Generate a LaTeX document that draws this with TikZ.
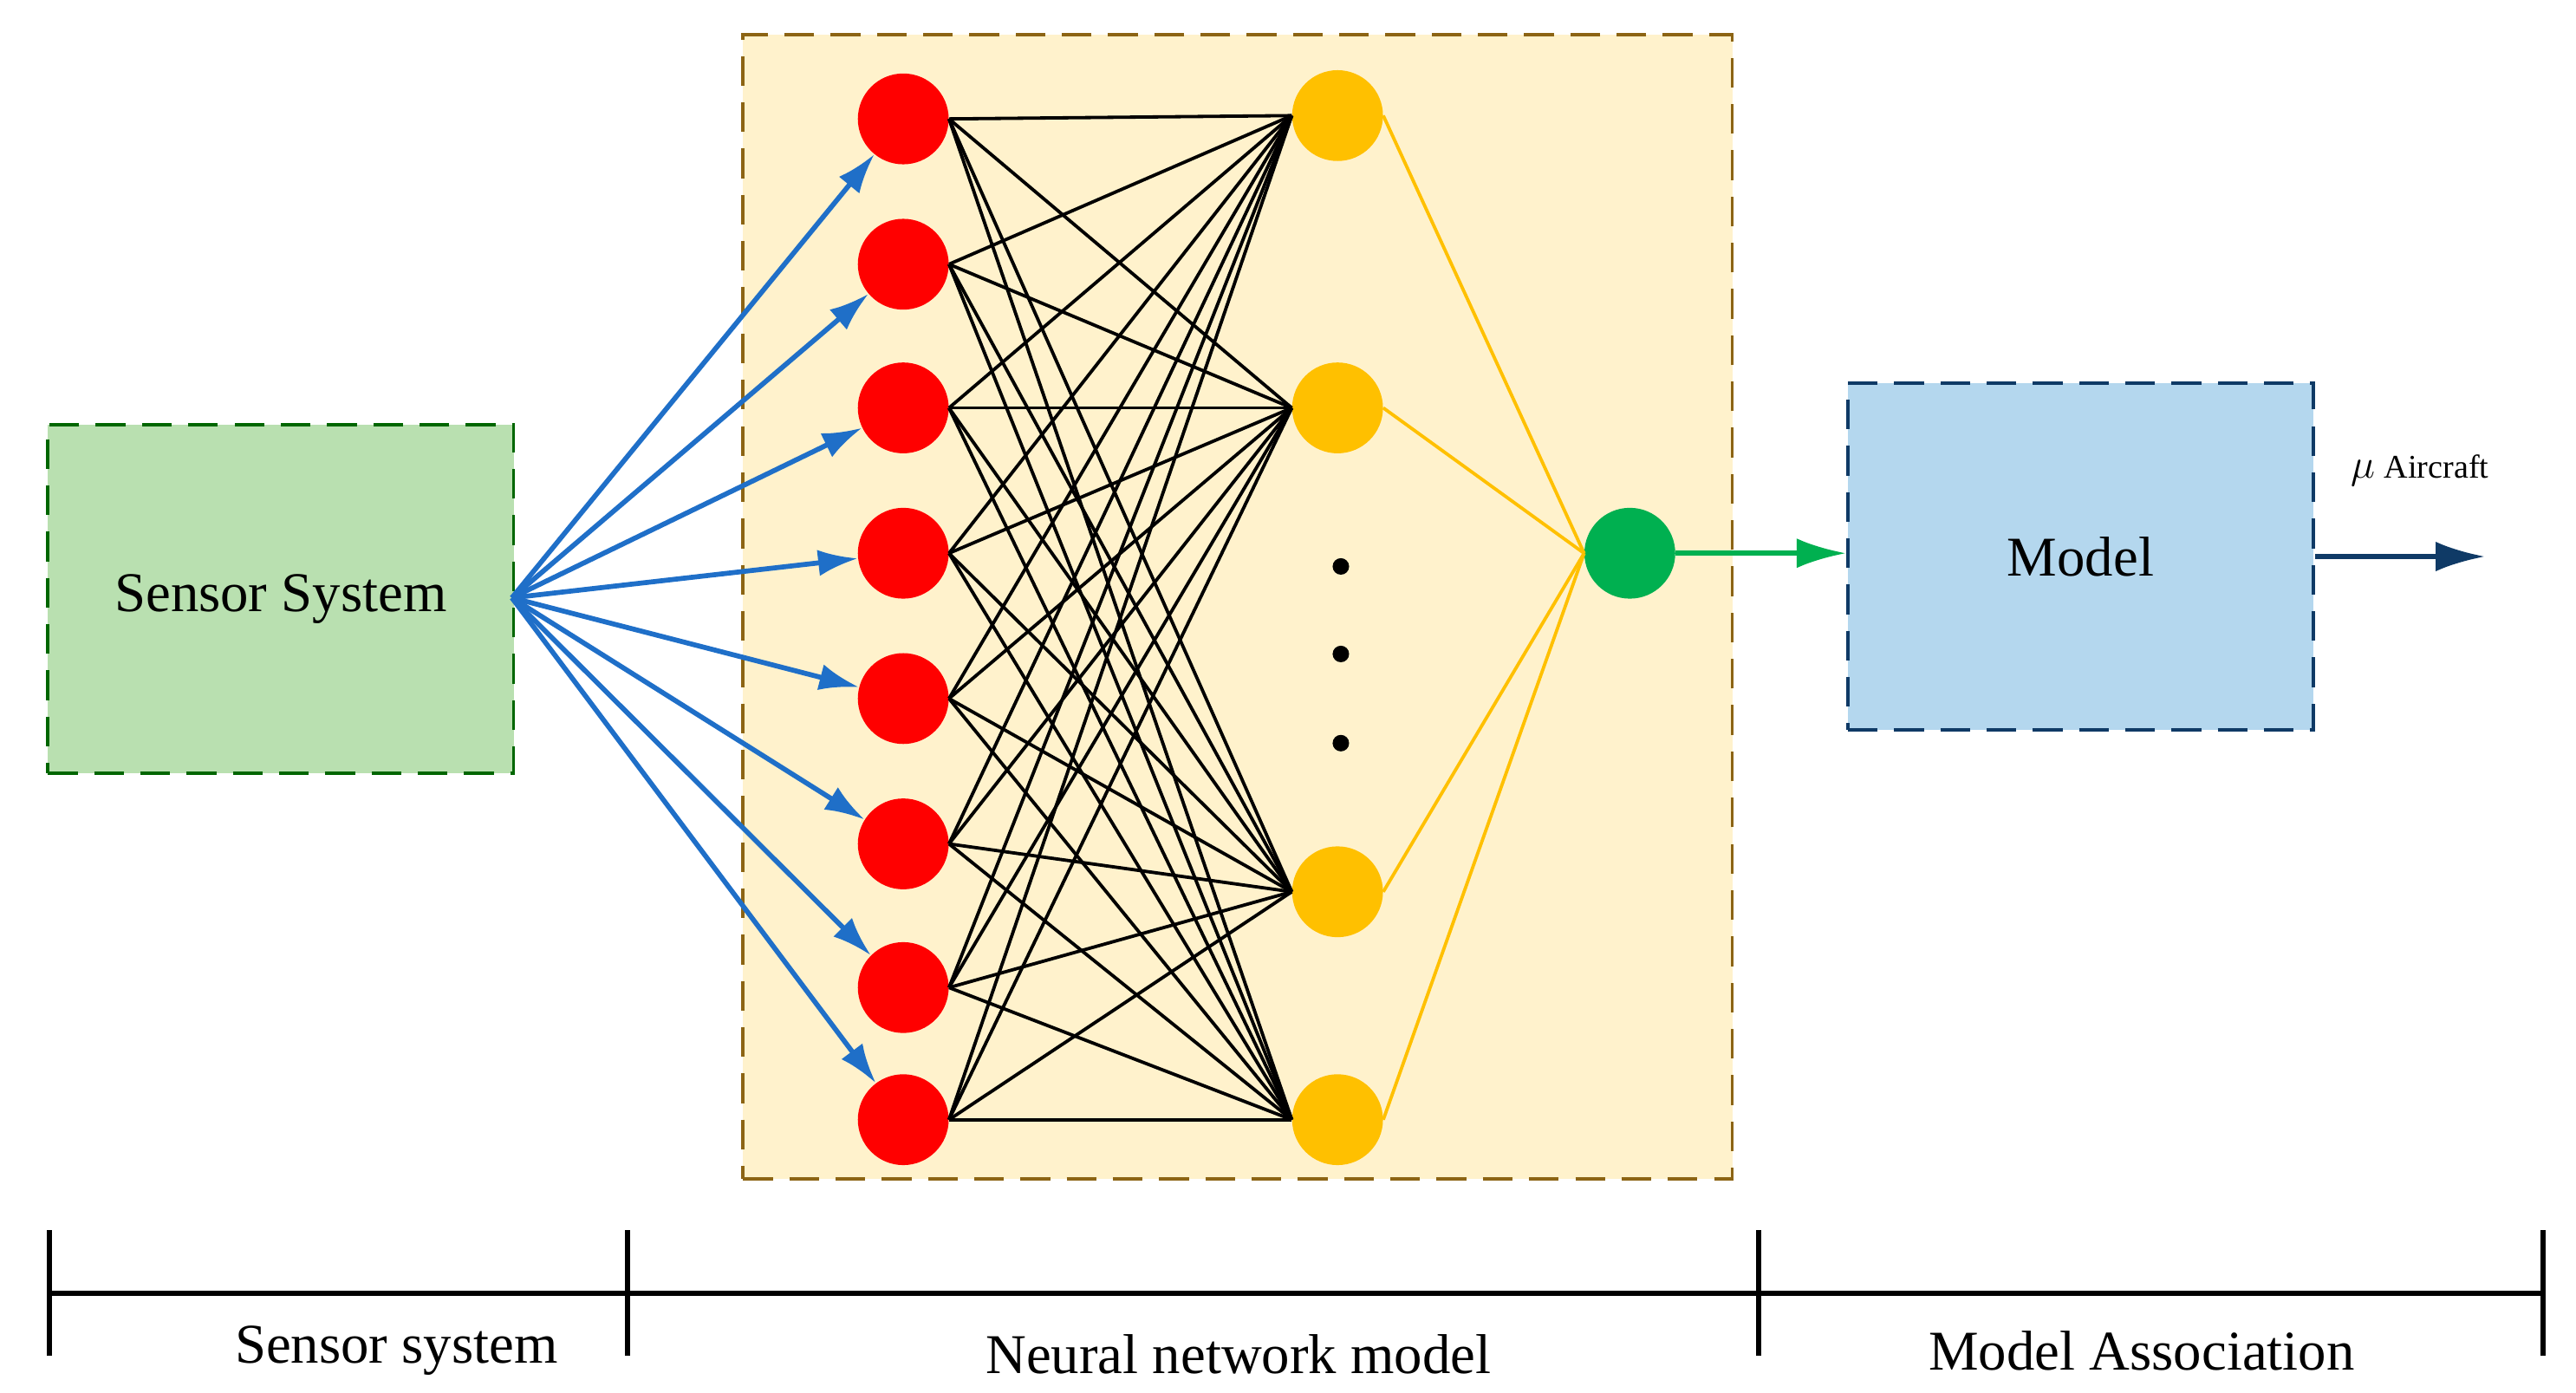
\documentclass[tikz,border=0pt]{standalone}
\usepackage{fontspec}
\setmainfont{Liberation Serif}
\usetikzlibrary{arrows.meta}
\definecolor{bl}{HTML}{1F6FC8}
\definecolor{yl}{HTML}{FFC000}
\definecolor{gr}{HTML}{00B050}
\definecolor{nv}{HTML}{0F3A66}
\begin{document}
\begin{tikzpicture}[x=1pt,y=-1pt,
  red/.style={circle,fill=red,minimum size=55pt,inner sep=0},
  yel/.style={circle,fill=yl,minimum size=55pt,inner sep=0},
  lbl/.style={font=\fontsize{34}{40}\selectfont},
  box/.style={dashed,line width=2pt,dash pattern=on 18pt off 10pt}]
\useasboundingbox (0,0) rectangle (1560,843);
\node[box,draw=green!40!black,fill={rgb,255:red,185;green,224;blue,176},minimum width=282pt,minimum height=211pt,anchor=north west,lbl] (sens) at (28,256) {Sensor System};
\node[box,draw={rgb,255:red,140;green,100;blue,20},fill={rgb,255:red,255;green,242;blue,204},minimum width=599pt,minimum height=693pt,anchor=north west] (nn) at (449,20) {};
\node[box,draw=nv,fill={rgb,255:red,180;green,215;blue,238},minimum width=282pt,minimum height=210pt,anchor=north west,lbl] (model) at (1118,231) {Model};
\foreach \i/\y in {1/72,2/160,3/247,4/335,5/423,6/511,7/598,8/678}
  \node[red] (r\i) at (547,\y) {};
\foreach \j/\y in {1/70,2/247,3/540,4/678}
  \node[yel] (y\j) at (810,\y) {};
\node[circle,fill=gr,minimum size=55pt,inner sep=0] (g) at (987,335) {};
\foreach \y in {343,396,450} \fill (812,\y) circle (5pt);
\coordinate (src) at (310,362);
\foreach \i in {1,...,8}
  \draw[bl,line width=3pt,-{Latex[length=24pt,width=16pt]}] (src) -- (r\i);
\foreach \i in {1,...,8}\foreach \j in {1,...,4}
  \draw[red,line width=2pt] (r\i.east) -- (y\j.west);
\foreach \j in {1,...,4}
  \draw[yl,line width=2pt] (y\j.east) -- (g.west);
\draw[gr,line width=3pt,-{Latex[length=30pt,width=18pt]}] (g) -- (model.west|-g);
\coordinate (out) at (1505,337);
\draw[nv,line width=3pt,-{Latex[length=30pt,width=18pt]}] (model.east|-out) -- (out);
\node[anchor=west] (mu) at (1420,285) {\fontsize{34}{40}\selectfont$\mu$\,\fontsize{20}{24}\selectfont Aircraft};
\coordinate (t0) at (30,783); \coordinate (t1) at (380,783);
\coordinate (t2) at (1065,783); \coordinate (t3) at (1540,783);
\draw[line width=3pt] (t0) -- (t3);
\foreach \t in {t0,t1,t2,t3} \draw[line width=3pt] ([yshift=-38pt]\t) -- ([yshift=38pt]\t);
\node[lbl] (l1) at (240,818) {Sensor system};
\node[lbl] (l2) at (750,820) {Neural network model};
\node[lbl] (l3) at (1297,818) {Model Association};
\end{tikzpicture}
\end{document}
